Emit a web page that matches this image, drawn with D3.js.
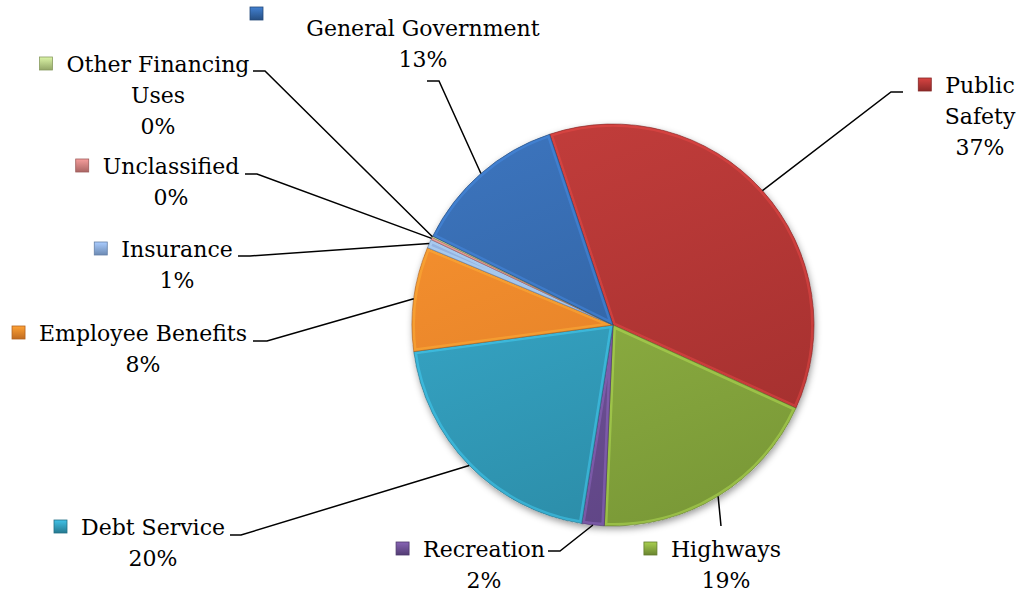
<!DOCTYPE html>
<html>
<head>
<meta charset="utf-8">
<script src="https://cdn.jsdelivr.net/npm/d3@7"></script>
<style>
  body { margin: 0; background: #fff; }
  svg { display: block; }
  .lbl { font-family: "DejaVu Serif", serif; font-size: 22px; fill: #000; }
  .leader { fill: none; stroke: #000; stroke-width: 1.5; }
</style>
</head>
<body>
<div id="chart"></div>
<script>
// Categories, clockwise from the top-right slice
const categories = ["Public Safety", "Highways", "Recreation", "Debt Service", "Employee Benefits",
                    "Insurance", "Unclassified", "Other Financing Uses", "General Government"];
const values = [36.9, 18.9, 1.8, 20.4, 8.4, 0.7, 0.2, 0.1, 12.6];
// slice shading, light (top) and dark (bottom)
const colorsTop = ["#c23d3b", "#98bb48", "#7a5aa3", "#3aaed0", "#f7922f",
                   "#9ab8e6", "#dd8e8c", "#c6dc97", "#3c74bd"];
const colorsBottom = ["#a22f2e", "#7a9937", "#5f4585", "#2b8ba6", "#dd7b26",
                      "#7d9fcf", "#c47472", "#a9c077", "#2c5b96"];
// how each label text wraps
const labelLines = [["Public", "Safety"], ["Highways"], ["Recreation"], ["Debt Service"], ["Employee Benefits"],
                    ["Insurance"], ["Unclassified"], ["Other Financing", "Uses"], ["General Government"]];

// label placement (text centre x, first baseline y, leader bend and end)
const labelPos = [
  { cx: 980, y: 93, bend: [891, 92], end: [903, 92] },
  { cx: 726, y: 557, bend: [721, 526], end: [721, 526] },
  { cx: 484, y: 557, bend: [560, 551], end: [548, 551] },
  { cx: 153, y: 535, bend: [241, 535], end: [230, 535] },
  { cx: 143, y: 341, bend: [267, 341], end: [253, 341] },
  { cx: 177, y: 257, bend: [250, 256], end: [238, 256] },
  { cx: 171, y: 174, bend: [257, 174], end: [245, 174] },
  { cx: 158, y: 72, bend: [265, 71], end: [253, 71] },
  { cx: 423, y: 36, bend: [439, 81], end: [427, 81], marker: [250, 7] }
];

const width = 1021, height = 596;
const cx = 613, cy = 325, radius = 201;
const lineH = 31;

const svg = d3.select('#chart').append('svg')
    .attr('width', width)
    .attr('height', height);

const defs = svg.append('defs');

const shadow = defs.append('filter').attr('id', 'shadow')
    .attr('x', '-20%').attr('y', '-20%').attr('width', '140%').attr('height', '140%');
shadow.append('feDropShadow')
    .attr('dx', 1).attr('dy', 3).attr('stdDeviation', 3.5)
    .attr('flood-color', '#000').attr('flood-opacity', 0.4);

colorsTop.forEach((c, i) => {
    // pie group is translated to the centre, so gradient coords are centre-relative
    const g = defs.append('linearGradient')
        .attr('id', 'grad' + i)
        .attr('gradientUnits', 'userSpaceOnUse')
        .attr('x1', -radius * 0.5).attr('y1', -radius)
        .attr('x2', radius * 0.3).attr('y2', radius);
    g.append('stop').attr('offset', '0%').attr('stop-color', c);
    g.append('stop').attr('offset', '100%').attr('stop-color', colorsBottom[i]);

    const m = defs.append('linearGradient')
        .attr('id', 'mgrad' + i)
        .attr('x1', 0).attr('y1', 0).attr('x2', 0).attr('y2', 1);
    m.append('stop').attr('offset', '0%').attr('stop-color', d3.color(c).brighter(0.3));
    m.append('stop').attr('offset', '100%').attr('stop-color', d3.color(colorsBottom[i]).darker(0.4));
});

const startAngle = -18.4 * Math.PI / 180;
const pie = d3.pie()
    .sort(null)
    .value(d => d)
    .startAngle(startAngle)
    .endAngle(startAngle + 2 * Math.PI);

const arcs = pie(values);
const total = d3.sum(values);

const arc = d3.arc().innerRadius(0).outerRadius(radius);
const edgeArc = d3.arc().innerRadius(radius).outerRadius(radius);

const g = svg.append('g').attr('transform', `translate(${cx},${cy})`);

// shadow under the whole pie
g.append('circle')
    .attr('r', radius)
    .attr('fill', '#fff')
    .attr('filter', 'url(#shadow)');

arcs.forEach((d, i) => {
    defs.append('clipPath').attr('id', 'clip' + i)
        .append('path').attr('d', arc(d));
});

const slices = g.selectAll('.slice')
    .data(arcs)
    .enter().append('g')
    .attr('class', 'slice');

slices.append('path')
    .attr('d', arc)
    .attr('fill', (d, i) => `url(#grad${i})`);

// bevel highlight along the slice edges
slices.append('path')
    .attr('d', arc)
    .attr('fill', 'none')
    .attr('stroke', (d, i) => d3.color(colorsTop[i]).brighter(0.6))
    .attr('stroke-opacity', 0.45)
    .attr('stroke-width', 6)
    .attr('clip-path', (d, i) => `url(#clip${i})`);

slices.append('path')
    .attr('d', arc)
    .attr('fill', 'none')
    .attr('stroke', (d, i) => d3.color(colorsBottom[i]).darker(0.8))
    .attr('stroke-opacity', 0.6)
    .attr('stroke-width', 1);

// leader lines
arcs.forEach((d, i) => {
    const p = labelPos[i];
    const e = edgeArc.centroid(d);
    const pts = [[cx + e[0], cy + e[1]], p.bend, p.end];
    svg.append('path')
        .attr('class', 'leader')
        .attr('d', d3.line()(pts));
});

// labels
const pct = v => Math.round(v / total * 100) + '%';

arcs.forEach((d, i) => {
    const p = labelPos[i];
    const lines = labelLines[i].concat([pct(values[i])]);
    const t = svg.append('text')
        .attr('class', 'lbl')
        .attr('text-anchor', 'middle');
    lines.forEach((ln, k) => {
        t.append('tspan')
            .attr('x', p.cx)
            .attr('y', p.y + k * lineH)
            .text(ln);
    });
    const first = t.select('tspan').node();
    const w = first.getComputedTextLength();
    const mx = p.marker ? p.marker[0] : p.cx - w / 2 - 27;
    const my = p.marker ? p.marker[1] : p.y - 15;
    svg.append('rect')
        .attr('x', mx).attr('y', my)
        .attr('width', 13).attr('height', 13)
        .attr('fill', `url(#mgrad${i})`)
        .attr('stroke', d3.color(colorsBottom[i]).darker(0.6))
        .attr('stroke-width', 0.8);
});
</script>
</body>
</html>
